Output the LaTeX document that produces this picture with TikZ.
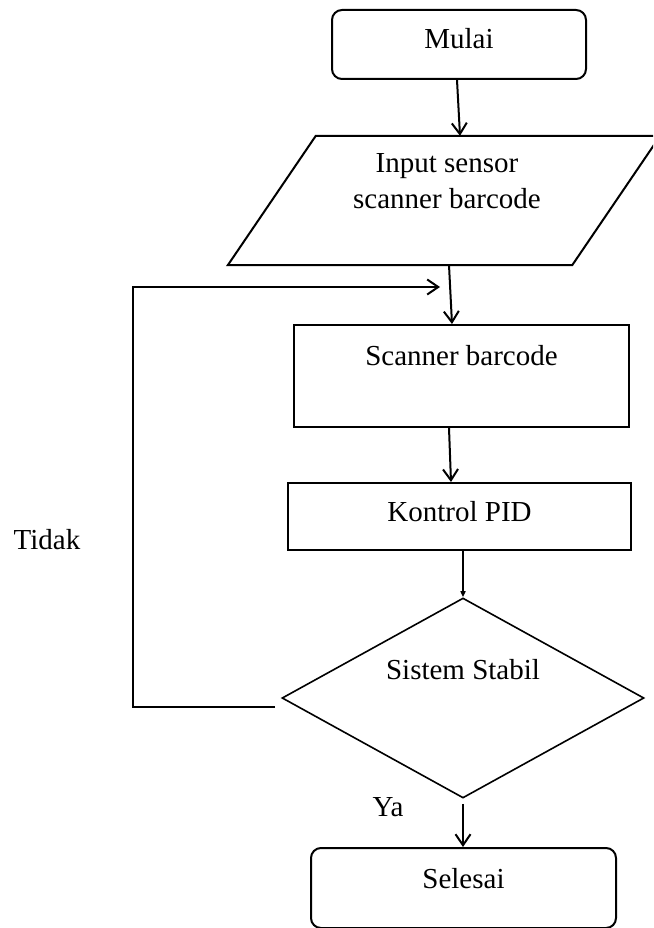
\documentclass[tikz,border=0pt]{standalone}
\usepackage{fontspec}
\setmainfont{Liberation Serif}
\usetikzlibrary{arrows.meta,shapes.geometric}
\begin{document}
\begin{tikzpicture}[x=1pt,y=-1pt,
  every node/.style={font=\fontsize{29}{36}\selectfont, inner sep=0pt},
  term/.style={draw, line width=2pt, rounded corners=10pt, text height=20pt},
  proc/.style={draw, line width=2pt, text height=20pt},
  dec/.style={draw, diamond, line width=1.6pt, aspect=1.81, text height=20pt},
  lbl/.style={anchor=base},
  arr/.style={line width=2pt, -{Straight Barb[length=11pt,width=15pt,line width=2pt]}},
  line/.style={line width=2pt}
]
\useasboundingbox (0,0) rectangle (653,928);
\clip (0,0) rectangle (653,928);

\node[term, minimum width=254pt, minimum height=69pt, text depth=12.4pt] (mulai) at (459,44.5) {Mulai};

\node[align=center, minimum width=344pt, minimum height=129pt, text height=56pt, text depth=41pt] (input) at (444,200.5) {\hspace*{6pt}Input sensor\\\hspace*{6pt}scanner barcode};
\draw[line width=2pt] ([xshift=-44pt]input.south west) -- ([xshift=44pt]input.north west)
  -- ([xshift=44pt]input.north east) -- ([xshift=-44pt]input.south east) -- cycle;

\node[proc, minimum width=335pt, minimum height=102pt, text depth=42pt] (scan) at (461.5,376) {Scanner barcode};

\node[proc, minimum width=343pt, minimum height=67pt, text depth=11pt] (pid) at (459.5,516.5) {Kontrol PID};

\node[dec, minimum width=362pt, minimum height=200pt, text depth=58pt] (dia) at (463,698) {Sistem Stabil};

\node[term, minimum width=305pt, minimum height=80pt, text depth=19pt] (selesai) at (463.5,888) {Selesai};

\node[lbl] (tidak) at (47,549) {Tidak};
\node[lbl] (ya) at (388,816) {Ya};

\coordinate (loopend) at (440,287);

\draw[arr] ([xshift=-2pt]mulai.south) -- ([xshift=16pt]input.north);
\draw[arr] ([xshift=5pt]input.south) -- ([xshift=-9.5pt]scan.north);
\draw[arr] ([xshift=-12.5pt]scan.south) -- ([xshift=-8.5pt]pid.north);
\draw[line width=2pt, -{Triangle[length=6pt,width=5pt]}] (dia.north |- pid.south) -- (dia.north);
\draw[arr] ([yshift=-5pt]dia.south) -- (selesai.north -| dia.south);
\draw[arr] ([shift={(-6,9)}]dia.west) -- ++(-142,0) |- (loopend);
\end{tikzpicture}
\end{document}
